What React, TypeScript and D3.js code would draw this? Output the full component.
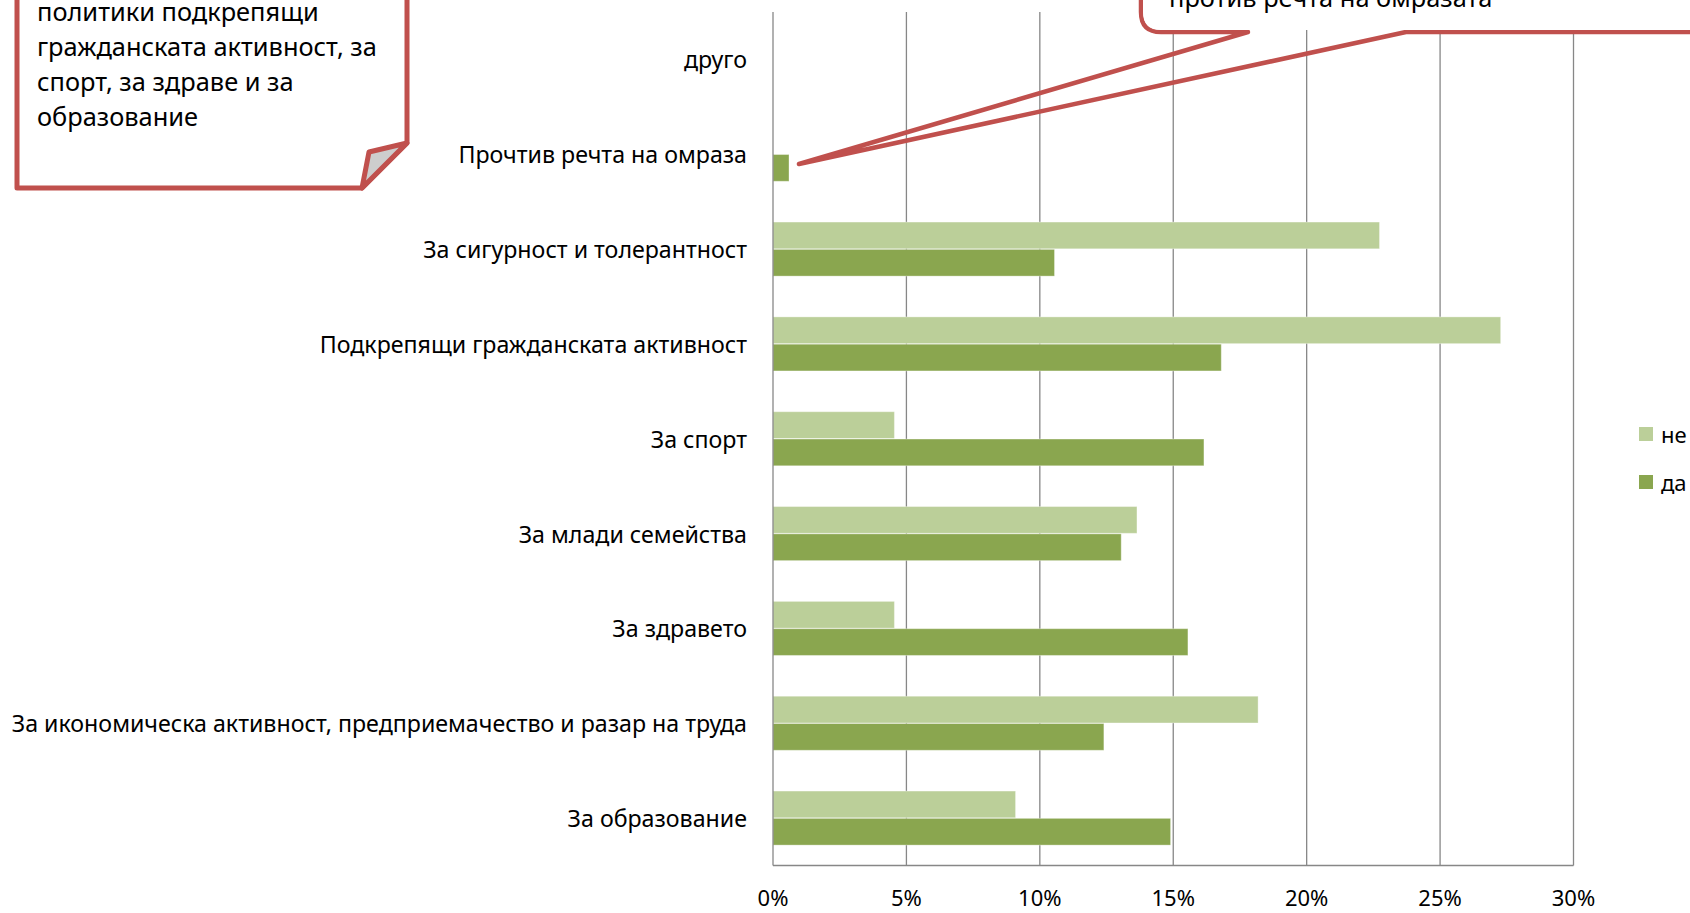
import React from "react";
import * as d3 from "d3";

const categories = [
  "За образование",
  "За икономическа активност, предприемачество и разар на труда",
  "За здравето",
  "За млади семейства",
  "За спорт",
  "Подкрепящи гражданската активност",
  "За сигурност и толерантност",
  "Прочтив речта на омраза",
  "друго",
];
const seriesNames = ["не", "да"];
const neValues = [9.09, 18.18, 4.55, 13.64, 4.55, 27.27, 22.73, 0, 0];
const daValues = [14.9, 12.4, 15.55, 13.05, 16.15, 16.8, 10.55, 0.6, 0];
const xTicks = [0, 5, 10, 15, 20, 25, 30];
const noteLines = ["политики подкрепящи", "гражданската активност, за", "спорт, за здраве и за", "образование"];
const calloutLines = ["против речта на омразата"];

const W = 1690;
const H = 913;
const FONT = "'Noto Sans', 'Open Sans', sans-serif";
const RED = "#C0504D";
const LIGHT = "#BBCF99";
const DARK = "#8AA64F";
const GRID = "#878787";

export default function App() {
  const left = 773;
  const right = 1573.5;
  const top = 12;
  const bottom = 865.5;

  const x = d3.scaleLinear().domain([0, 30]).range([left, right]);
  const y = d3
    .scaleBand<string>()
    .domain([...categories].reverse())
    .range([top, bottom])
    .paddingInner(0.43)
    .paddingOuter(0.215);
  const ys = d3.scaleBand<string>().domain(seriesNames).range([0, y.bandwidth()]).paddingInner(0.02);

  const values: Record<string, number[]> = { не: neValues, да: daValues };
  const colors: Record<string, string> = { не: LIGHT, да: DARK };

  const tipX = 799;
  const tipY = 164;

  return (
    <svg
      width={W}
      height={H}
      style={{ position: "absolute", left: 0, top: 0, display: "block", background: "#fff" }}
      fontFamily={FONT}
    >
      {/* gridlines */}
      {xTicks.slice(1).map((t) => (
        <line key={"g" + t} x1={x(t)} x2={x(t)} y1={top} y2={bottom} stroke={GRID} strokeWidth={1.3} />
      ))}
      {/* bars */}
      {categories.map((c, i) =>
        seriesNames.map((s) => {
          const v = values[s][i];
          if (!v) return null;
          return (
            <rect
              key={c + s}
              x={x(0)}
              y={(y(c) as number) + (ys(s) as number)}
              width={x(v) - x(0)}
              height={ys.bandwidth()}
              fill={colors[s]}
              stroke="rgba(255,255,255,0.35)"
              strokeWidth={1}
            />
          );
        })
      )}
      {/* axes */}
      <line x1={x(0)} x2={x(0)} y1={top} y2={bottom} stroke={GRID} strokeWidth={1.3} />
      <line x1={x(0)} x2={x(30)} y1={bottom} y2={bottom} stroke={GRID} strokeWidth={1.3} />
      {/* category labels */}
      {categories.map((c) => (
        <text
          key={"l" + c}
          x={747}
          y={(y(c) as number) + y.bandwidth() / 2}
          textAnchor="end"
          dominantBaseline="central"
          fontSize={23.2}
          fill="#000"
        >
          {c}
        </text>
      ))}
      {/* x tick labels */}
      {xTicks.map((t) => (
        <text key={"t" + t} x={x(t)} y={897} textAnchor="middle" dominantBaseline="central" fontSize={22}>
          {t + "%"}
        </text>
      ))}
      {/* legend */}
      {seriesNames.map((s, i) => (
        <g key={"lg" + s} transform={`translate(1639, ${434 + i * 48})`}>
          <rect x={0} y={-7} width={14} height={14} fill={colors[s]} />
          <text x={22} y={0} dominantBaseline="central" fontSize={22}>
            {s}
          </text>
        </g>
      ))}

      {/* top-left folded note */}
      <path
        d="M17,-20 L17,188 L362,188 L407,143 L407,-20"
        fill="#fff"
        stroke={RED}
        strokeWidth={5}
        strokeLinejoin="round"
      />
      <path d="M362,188 L369,152 L407,143 Z" fill="#CDCDCD" stroke={RED} strokeWidth={5} strokeLinejoin="round" />
      {noteLines.map((l, i) => (
        <text key={"n" + i} x={37} y={11 + i * 35} dominantBaseline="central" fontSize={25.4}>
          {l}
        </text>
      ))}

      {/* top-right callout */}
      <path
        d={`M1141,-20 L1141,12 Q1141,32 1161,32 L1248,32 L${tipX},${tipY} L1406,32 L1720,32`}
        fill="none"
        stroke={RED}
        strokeWidth={4.5}
        strokeLinejoin="round"
        strokeLinecap="round"
      />
      <path d="M1143,-20 L1143,12 Q1143,30 1161,30 L1720,30 L1720,-20 Z" fill="#fff" />
      {calloutLines.map((l, i) => (
        <text key={"c" + i} x={1169} y={-3 + i * 35} dominantBaseline="central" fontSize={25.4}>
          {l}
        </text>
      ))}
    </svg>
  );
}
